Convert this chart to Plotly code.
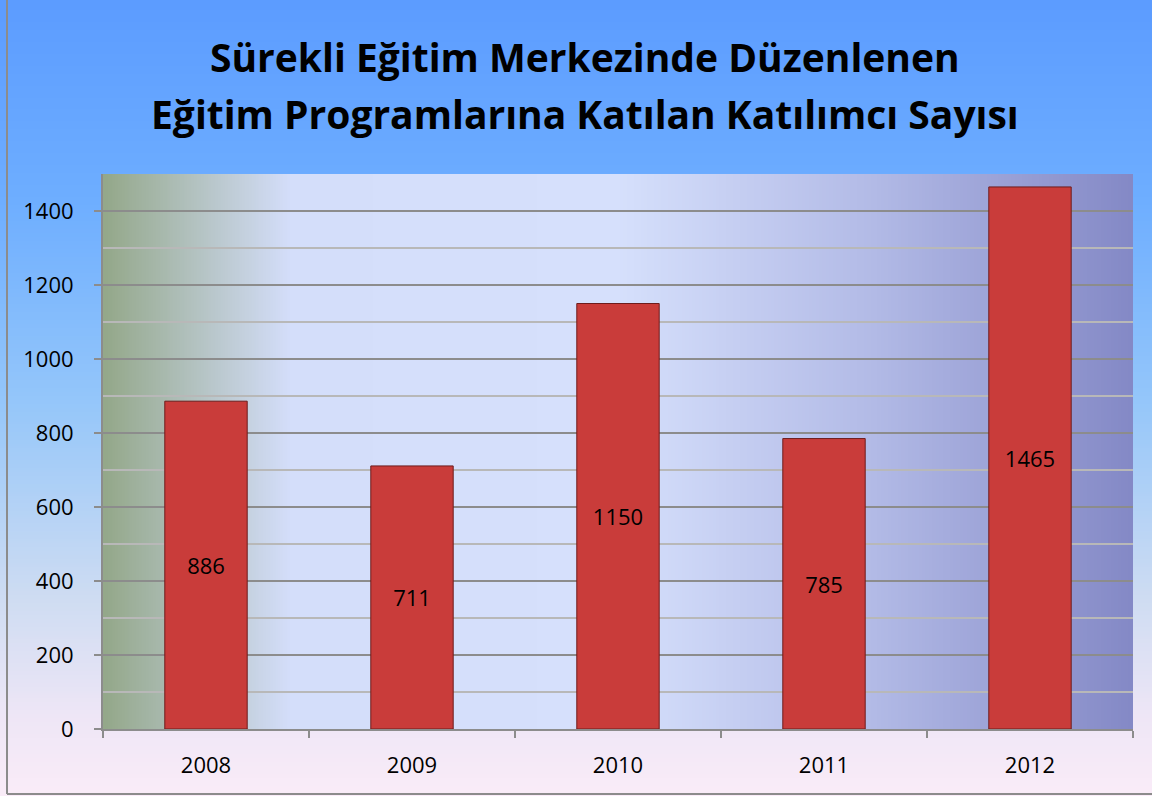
import zlib, struct, base64
import plotly.graph_objects as go

years = ["2008", "2009", "2010", "2011", "2012"]
participants = [886, 711, 1150, 785, 1465]
title_lines = ["Sürekli Eğitim Merkezinde Düzenlenen",
               "Eğitim Programlarına Katılan Katılımcı Sayısı"]

W, H = 1152, 796
L, R, T, B = 103, 19, 174, 67
PW, PH = W - L - R, H - T - B
FONT = "Open Sans"


def lerp_stops(stops, n):
    out = []
    for i in range(n):
        f = i / (n - 1)
        for (f0, c0), (f1, c1) in zip(stops[:-1], stops[1:]):
            if f0 <= f <= f1:
                t = 0 if f1 == f0 else (f - f0) / (f1 - f0)
                out.append(tuple(int(round(a + (b - a) * t)) for a, b in zip(c0, c1)))
                break
    return out


def png_uri(rows):
    h = len(rows); w = len(rows[0])
    raw = b"".join(b"\x00" + bytes([c for px in row for c in px]) for row in rows)

    def chunk(t, d):
        c = struct.pack(">I", len(d)) + t + d
        return c + struct.pack(">I", zlib.crc32(t + d) & 0xffffffff)
    png = (b"\x89PNG\r\n\x1a\n" + chunk(b"IHDR", struct.pack(">IIBBBBB", w, h, 8, 2, 0, 0, 0))
           + chunk(b"IDAT", zlib.compress(raw)) + chunk(b"IEND", b""))
    return "data:image/png;base64," + base64.b64encode(png).decode()


# page: vertical gradient (blue -> pale pink)
page_stops = [(0.0, (92, 156, 255)), (0.25, (110, 174, 255)), (0.5, (148, 198, 250)),
              (0.75, (206, 220, 242)), (0.9, (238, 230, 246)), (1.0, (250, 236, 248))]
page_cols = lerp_stops(page_stops, 200)
page_img = png_uri([[c] * 4 for c in page_cols])

# plot area: horizontal gradient (green-grey -> pale lavender -> blue-violet)
plot_stops = [(0.0, (148, 168, 138)), (0.18, (212, 222, 250)), (0.5, (214, 224, 252)),
              (0.75, (178, 186, 230)), (1.0, (132, 137, 198))]
plot_cols = lerp_stops(plot_stops, 300)
plot_img = png_uri([plot_cols for _ in range(4)])

fig = go.Figure()
fig.add_trace(go.Bar(
    x=years, y=participants, text=[str(v) for v in participants],
    textposition="inside", insidetextanchor="middle", textangle=0,
    textfont=dict(family=FONT, size=22, color="black"),
    marker=dict(color="#c93c3a", line=dict(color="#6e1c1c", width=1)),
    hoverinfo="x+y",
))

px = lambda p: (p - L) / PW
py = lambda p: (H - B - p) / PH

fig.update_layout(
    width=W, height=H,
    margin=dict(l=L, r=R, t=T, b=B),
    paper_bgcolor="rgba(0,0,0,0)", plot_bgcolor="rgba(0,0,0,0)",
    bargap=0.6, showlegend=False,
    images=[
        dict(source=page_img, xref="paper", yref="paper", x=px(0), y=py(0),
             sizex=W / PW, sizey=H / PH, sizing="stretch", xanchor="left", yanchor="top", layer="below"),
        dict(source=plot_img, xref="paper", yref="paper", x=0, y=1,
             sizex=1, sizey=1, sizing="stretch", xanchor="left", yanchor="top", layer="below"),
    ],
    shapes=[
        dict(type="line", xref="paper", yref="paper", x0=px(7), x1=px(7), y0=py(-5), y1=py(794),
             line=dict(color="#8c8c8c", width=2)),
        dict(type="line", xref="paper", yref="paper", x0=px(7), x1=px(W + 5), y0=py(794), y1=py(794),
             line=dict(color="#8c8c8c", width=2)),
    ],
    annotations=[
        dict(text="<b>%s</b>" % title_lines[0], xref="paper", yref="paper", x=px(585), y=py(57),
             xanchor="center", yanchor="middle", showarrow=False,
             font=dict(family=FONT, size=39, color="black")),
        dict(text="<b>%s</b>" % title_lines[1], xref="paper", yref="paper", x=px(585), y=py(113),
             xanchor="center", yanchor="middle", showarrow=False,
             font=dict(family=FONT, size=39, color="black")),
    ],
    xaxis=dict(
        type="category", tickson="boundaries", ticks="outside", ticklen=7, tickwidth=2,
        tickcolor="#8c8c8c", showline=True, linecolor="#8c8c8c", linewidth=2,
        showgrid=False, ticklabelstandoff=16,
        tickfont=dict(family=FONT, size=22, color="black"),
    ),
    yaxis=dict(
        range=[0, 1500], dtick=200, ticks="outside", ticklen=7, tickwidth=2, tickcolor="#8c8c8c",
        showline=True, linecolor="#8c8c8c", linewidth=2,
        showgrid=True, gridcolor="#8c8c8c", gridwidth=2, zeroline=False,
        minor=dict(dtick=100, showgrid=True, gridcolor="#b8b8b8", gridwidth=2, ticks=""),
        ticklabelstandoff=16,
        tickfont=dict(family=FONT, size=22, color="black"),
    ),
)

fig.write_html("out.html", config={"displayModeBar": False},
               post_script="document.body.style.margin='0';document.body.style.padding='0';")
